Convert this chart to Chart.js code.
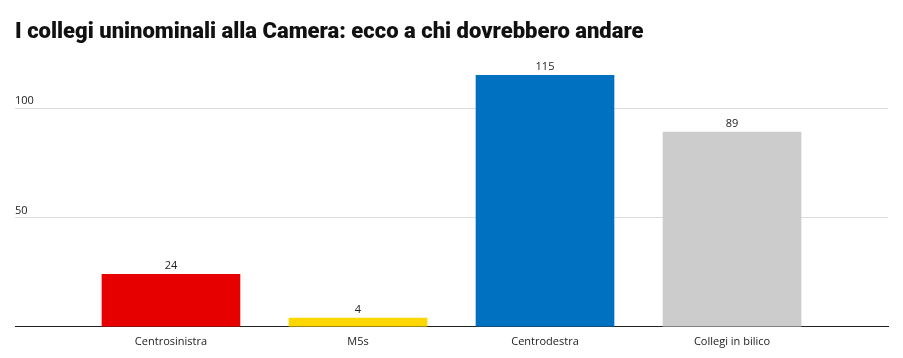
<!DOCTYPE html>
<html>
<head>
<meta charset="utf-8">
<script src="https://cdn.jsdelivr.net/npm/chart.js@4"></script>
<style>
html,body{margin:0;padding:0;background:#fff;}
#wrap{width:903px;height:358px;position:relative;}
</style>
</head>
<body>
<div id="wrap"><canvas id="c" width="903" height="358"></canvas></div>
<script>
const titleText = 'I collegi uninominali alla Camera: ecco a chi dovrebbero andare';
const categories = ['Centrosinistra', 'M5s', 'Centrodestra', 'Collegi in bilico'];
const values = [24, 4, 115, 89];
const barColors = ['#e60000', '#ffd700', '#0070c0', '#cccccc'];
const yTicks = [0, 50, 100];

const valueLabels = {
  id: 'valueLabels',
  afterDatasetsDraw(chart) {
    const ctx = chart.ctx;
    const meta = chart.getDatasetMeta(0);
    ctx.save();
    ctx.font = '11px "Open Sans", sans-serif';
    ctx.fillStyle = '#222';
    ctx.textAlign = 'center';
    ctx.textBaseline = 'bottom';
    meta.data.forEach((bar, i) => {
      ctx.fillText(String(values[i]), bar.x, bar.y - 3);
    });
    ctx.restore();
  }
};

new Chart(document.getElementById('c'), {
  type: 'bar',
  data: {
    datasets: [{
      data: categories.map((c, i) => ({x: i, y: values[i]})),
      backgroundColor: barColors,
      barThickness: 138,
      borderWidth: 0
    }]
  },
  options: {
    responsive: false,
    animation: false,
    layout: {padding: {left: 15, right: 15, top: 0, bottom: 2}},
    plugins: {
      legend: {display: false},
      tooltip: {enabled: false},
      title: {
        display: true,
        text: titleText,
        align: 'start',
        color: '#111',
        font: {family: 'Roboto, "Open Sans", sans-serif', size: 22, weight: 900},
        padding: {top: 19, bottom: 19}
      }
    },
    scales: {
      x: {
        type: 'linear',
        offset: false,
        bounds: 'ticks',
        min: -0.834,
        max: 3.834,
        afterBuildTicks: (axis) => { axis.ticks = categories.map((c, i) => ({value: i})); },
        ticks: {
          callback: (v) => categories[v] ?? '',
          color: '#222',
          font: {family: '"Open Sans", sans-serif', size: 11},
          maxRotation: 0,
          autoSkip: false,
          padding: 8
        },
        grid: {display: false, drawTicks: false, offset: false},
        border: {display: true, color: '#222', width: 1}
      },
      y: {
        min: 0,
        max: 120,
        afterBuildTicks: (axis) => { axis.ticks = yTicks.map(v => ({value: v})); },
        ticks: {
          mirror: true,
          labelOffset: -7,
          padding: 0,
          callback: (v) => v === 0 ? '' : String(v),
          color: '#222',
          font: {family: '"Open Sans", sans-serif', size: 11}
        },
        grid: {
          color: (ctx) => ctx.tick && ctx.tick.value === 0 ? '#222' : '#dddddd',
          drawTicks: false
        },
        border: {display: false}
      }
    }
  },
  plugins: [valueLabels]
});
</script>
</body>
</html>
